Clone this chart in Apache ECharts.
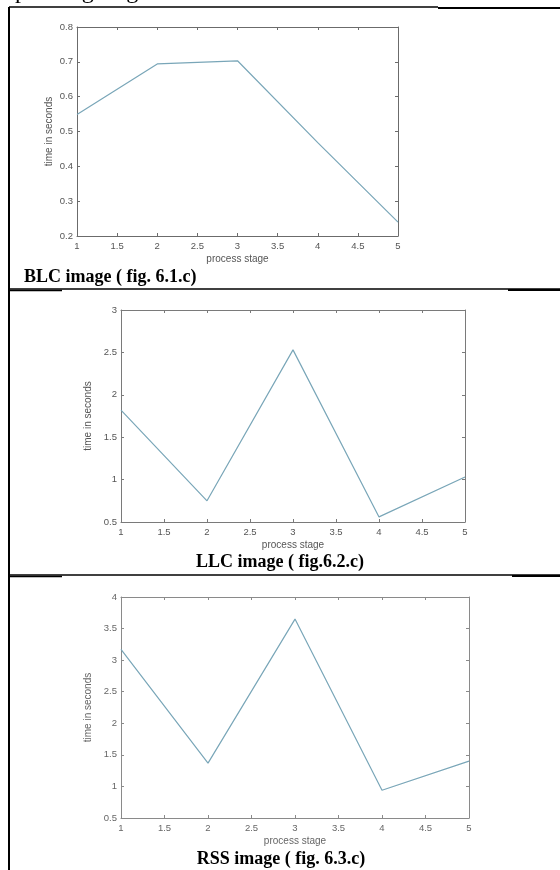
<!DOCTYPE html>
<html>
<head>
<meta charset="utf-8">
<style>
html,body{margin:0;padding:0;background:#fff;}
#chart{width:560px;height:870px;}
</style>
<script src="https://cdn.jsdelivr.net/npm/echarts@6/dist/echarts.min.js"></script>
</head>
<body>
<div id="chart"></div>
<script>
// ---- data ----
var stages = [1, 2, 3, 4, 5];
var blcTime = [0.549, 0.694, 0.703, 0.468, 0.240];
var llcTime = [1.82, 0.75, 2.53, 0.56, 1.03];
var rssTime = [3.17, 1.37, 3.65, 0.94, 1.40];
var captions = ['BLC image ( fig. 6.1.c)', 'LLC image ( fig.6.2.c)', 'RSS image ( fig. 6.3.c)'];
var yRanges = [[0.2, 0.8, 0.1], [0.5, 3, 0.5], [0.5, 4, 0.5]];
var xRange = [1, 5, 0.5];

var chart = echarts.init(document.getElementById('chart'), null, {renderer: 'canvas'});

var grids = [
  {left: 77, top: 27, width: 321, height: 209},
  {left: 121, top: 310, width: 344, height: 212},
  {left: 121, top: 597, width: 348, height: 221}
];
var yNameGaps = [23, 28, 28];
var seriesData = [blcTime, llcTime, rssTime];
var axisColors = ['#6b6b6b', '#7a7a7a', '#8a8a8a'];
var labelColors = ['#555', '#555', '#666'];
var lineColor = '#79a6b8';
var sans = 'Liberation Sans, Arial, sans-serif';

var xAxes = [], yAxes = [], series = [];
grids.forEach(function (g, i) {
  var ac = axisColors[i];
  var common = {
    axisLine: {lineStyle: {color: ac, width: 1}},
    axisTick: {inside: true, length: 3, lineStyle: {color: ac}},
    splitLine: {show: false}
  };
  xAxes.push(Object.assign({
    type: 'value', gridIndex: i, min: xRange[0], max: xRange[1], interval: xRange[2], position: 'bottom',
    axisLabel: {fontSize: 9.5, color: labelColors[i], margin: 5, fontFamily: sans},
    name: 'process stage', nameLocation: 'middle', nameGap: 18, nameMoveOverlap: false,
    nameTextStyle: {fontSize: 10, color: labelColors[i], fontFamily: sans}
  }, common));
  xAxes.push(Object.assign({
    type: 'value', gridIndex: i, min: xRange[0], max: xRange[1], interval: xRange[2], position: 'top',
    axisLabel: {show: false}
  }, common));
  var yr = yRanges[i];
  yAxes.push(Object.assign({
    type: 'value', gridIndex: i, min: yr[0], max: yr[1], interval: yr[2], position: 'left',
    axisLabel: {fontSize: 9.5, color: labelColors[i], margin: 4, fontFamily: sans},
    name: 'time in seconds', nameLocation: 'middle', nameGap: yNameGaps[i], nameRotate: 90, nameMoveOverlap: false,
    nameTextStyle: {fontSize: 10, color: labelColors[i], fontFamily: sans}
  }, common));
  yAxes.push(Object.assign({
    type: 'value', gridIndex: i, min: yr[0], max: yr[1], interval: yr[2], position: 'right',
    axisLabel: {show: false}
  }, common));
  series.push({
    type: 'line', xAxisIndex: i * 2, yAxisIndex: i * 2,
    data: stages.map(function (s, k) { return [s, seriesData[i][k]]; }),
    showSymbol: false, symbol: 'none',
    lineStyle: {color: lineColor, width: 1.2},
    animation: false
  });
});

var serif = '"Liberation Serif", "Times New Roman", serif';
var graphic = [
  // partial heading at top
  {type: 'text', left: -13, top: -20, style: {text: 'responding stages', font: '24px ' + serif, fill: '#000'}},
  // table borders
  {type: 'line', shape: {x1: 9, y1: 7, x2: 438, y2: 7}, style: {stroke: '#000', lineWidth: 1.5}},
  {type: 'line', shape: {x1: 438, y1: 8, x2: 560, y2: 8}, style: {stroke: '#000', lineWidth: 2}},
  {type: 'line', shape: {x1: 9, y1: 7, x2: 9, y2: 870}, style: {stroke: '#000', lineWidth: 2}},
  {type: 'line', shape: {x1: 9, y1: 289, x2: 560, y2: 289}, style: {stroke: '#000', lineWidth: 1.5}},
  {type: 'line', shape: {x1: 9, y1: 290.5, x2: 62, y2: 290.5}, style: {stroke: '#000', lineWidth: 1.5}},
  {type: 'line', shape: {x1: 508, y1: 290, x2: 560, y2: 290}, style: {stroke: '#000', lineWidth: 2}},
  {type: 'line', shape: {x1: 9, y1: 575, x2: 560, y2: 575}, style: {stroke: '#000', lineWidth: 1.5}},
  {type: 'line', shape: {x1: 9, y1: 576.5, x2: 62, y2: 576.5}, style: {stroke: '#000', lineWidth: 1.5}},
  {type: 'line', shape: {x1: 512, y1: 576, x2: 560, y2: 576}, style: {stroke: '#000', lineWidth: 2}},
  // captions
  {type: 'text', left: 24, top: 268, style: {text: captions[0], font: 'bold 18px ' + serif, fill: '#000', textVerticalAlign: 'middle'}},
  {type: 'text', x: 280, y: 562, style: {text: captions[1], font: 'bold 18px ' + serif, fill: '#000', textAlign: 'center', textVerticalAlign: 'middle'}},
  {type: 'text', x: 281, y: 859, style: {text: captions[2], font: 'bold 18px ' + serif, fill: '#000', textAlign: 'center', textVerticalAlign: 'middle'}}
];

chart.setOption({
  animation: false,
  backgroundColor: '#fff',
  grid: grids,
  xAxis: xAxes,
  yAxis: yAxes,
  series: series,
  graphic: graphic
});
</script>
</body>
</html>
